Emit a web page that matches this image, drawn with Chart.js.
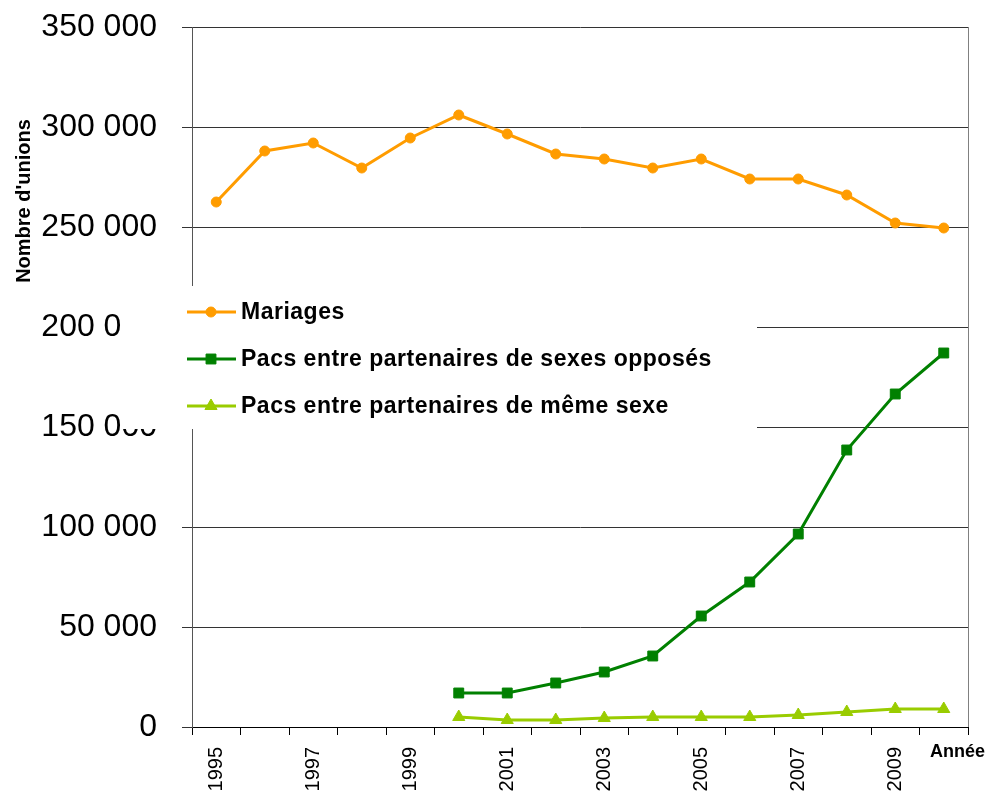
<!DOCTYPE html>
<html lang="fr">
<head>
  <meta charset="UTF-8">
  <title>Mariages et Pacs</title>
  <script src="https://cdn.jsdelivr.net/npm/chart.js"></script>
  <style>
    body {
      margin: 0;
      background: #fff;
      font-family: "Liberation Sans", Arial, sans-serif;
    }
    #wrap {
      width: 992px;
      height: 795px;
      position: relative;
    }
  </style>
</head>
<body>

  <div id="wrap">
    <canvas id="unionsChart"></canvas>
  </div>

  <script>
    const years = ['1995', '1996', '1997', '1998', '1999', '2000', '2001', '2002',
                   '2003', '2004', '2005', '2006', '2007', '2008', '2009', '2010'];

    const mariages = [262500, 288000, 292000, 279500, 294500, 306000, 296500, 286500,
                      284000, 279500, 284000, 274000, 274000, 266000, 252000, 249500];

    const pacsOpposes = [null, null, null, null, null, 17000, 17000, 22000,
                         27500, 35500, 55500, 72500, 96500, 138500, 166500, 187000];

    const pacsMemeSexe = [null, null, null, null, null, 5000, 3500, 3500,
                          4500, 5000, 5000, 5000, 6000, 7500, 9000, 9000];

    const yTitle = "Nombre d'unions";
    const xTitle = 'Année';

    const FONT = '"Liberation Sans", Arial, sans-serif';

    function formatNombre(v) {
      return String(v).replace(/\B(?=(\d{3})+(?!\d))/g, ' ');
    }

    // légende posée sur le graphique + titres des axes
    const decor = {
      id: 'decor',
      afterDraw(chart) {
        const ctx = chart.ctx;
        const area = chart.chartArea;
        ctx.save();

        // bord droit
        ctx.strokeStyle = '#808080';
        ctx.lineWidth = 1;
        ctx.beginPath();
        ctx.moveTo(area.right + 0.5, area.top);
        ctx.lineTo(area.right + 0.5, area.bottom);
        ctx.stroke();

        // titre axe y
        ctx.fillStyle = '#000';
        ctx.font = 'bold 20px ' + FONT;
        ctx.textAlign = 'center';
        ctx.textBaseline = 'middle';
        ctx.translate(24, 201);
        ctx.rotate(-Math.PI / 2);
        ctx.fillText(yTitle, 0, 0);
        ctx.setTransform(1, 0, 0, 1, 0, 0);

        // titre axe x
        ctx.font = 'bold 18px ' + FONT;
        ctx.textAlign = 'left';
        ctx.fillText(xTitle, 930, 752);

        // légende
        ctx.fillStyle = '#fff';
        ctx.fillRect(122, 286, 635, 143);
        ctx.font = 'bold 23px ' + FONT;
        ctx.letterSpacing = '0.5px';
        ctx.textBaseline = 'middle';
        chart.data.datasets.forEach((ds, i) => {
          const y = 312 + i * 47;
          ctx.strokeStyle = ds.borderColor;
          ctx.lineWidth = 3;
          ctx.beginPath();
          ctx.moveTo(187, y);
          ctx.lineTo(236, y);
          ctx.stroke();
          ctx.fillStyle = ds.backgroundColor;
          ctx.strokeStyle = ds.borderColor;
          ctx.lineWidth = 1;
          Chart.helpers.drawPoint(ctx, {
            pointStyle: ds.pointStyle,
            radius: ds.pointRadius,
            borderWidth: 1,
            rotation: 0
          }, 211, y);
          ctx.fillStyle = '#000';
          ctx.fillText(ds.label, 241, y + 1);
        });

        ctx.restore();
      }
    };

    const ctx = document.getElementById('unionsChart').getContext('2d');
    new Chart(ctx, {
      type: 'line',
      data: {
        labels: years,
        datasets: [
          {
            label: 'Mariages',
            data: mariages,
            borderColor: '#FF9C00',
            backgroundColor: '#FF9C00',
            borderWidth: 3,
            pointStyle: 'circle',
            pointRadius: 5,
            pointBorderWidth: 1,
            tension: 0
          },
          {
            label: 'Pacs entre partenaires de sexes opposés',
            data: pacsOpposes,
            borderColor: '#008000',
            backgroundColor: '#008000',
            borderWidth: 3,
            pointStyle: 'rect',
            pointRadius: 7,
            pointBorderWidth: 1,
            tension: 0
          },
          {
            label: 'Pacs entre partenaires de même sexe',
            data: pacsMemeSexe,
            borderColor: '#99CC00',
            backgroundColor: '#99CC00',
            borderWidth: 3,
            pointStyle: 'triangle',
            pointRadius: 7,
            pointBorderWidth: 1,
            tension: 0
          }
        ]
      },
      options: {
        responsive: true,
        maintainAspectRatio: false,
        animation: false,
        layout: {
          padding: { top: 27, right: 24, left: 0, bottom: 0 }
        },
        scales: {
          x: {
            offset: true,
            grid: {
              offset: true,
              drawOnChartArea: false,
              tickLength: 8,
              color: '#000'
            },
            border: { color: '#000', width: 1 },
            ticks: {
              autoSkip: false,
              maxRotation: 90,
              minRotation: 90,
              padding: 12,
              color: '#000',
              font: { family: FONT, size: 20 },
              callback: (v, i) => (i % 2 === 0 ? years[i] : '')
            },
            afterFit(scale) {
              scale.height = 68;
              scale.paddingLeft = 0;
              scale.paddingRight = 0;
            }
          },
          y: {
            min: 0,
            max: 350000,
            ticks: {
              stepSize: 50000,
              padding: 25,
              color: '#000',
              font: { family: FONT, size: 32 },
              callback: v => formatNombre(v)
            },
            grid: {
              color: '#333',
              lineWidth: 1,
              tickLength: 10
            },
            border: { color: '#555', width: 1 },
            afterFit(scale) {
              scale.width = 192;
              scale.paddingTop = 0;
              scale.paddingBottom = 0;
            }
          }
        },
        plugins: {
          legend: { display: false },
          title: { display: false },
          tooltip: { enabled: false }
        }
      },
      plugins: [decor]
    });
  </script>

</body>
</html>
